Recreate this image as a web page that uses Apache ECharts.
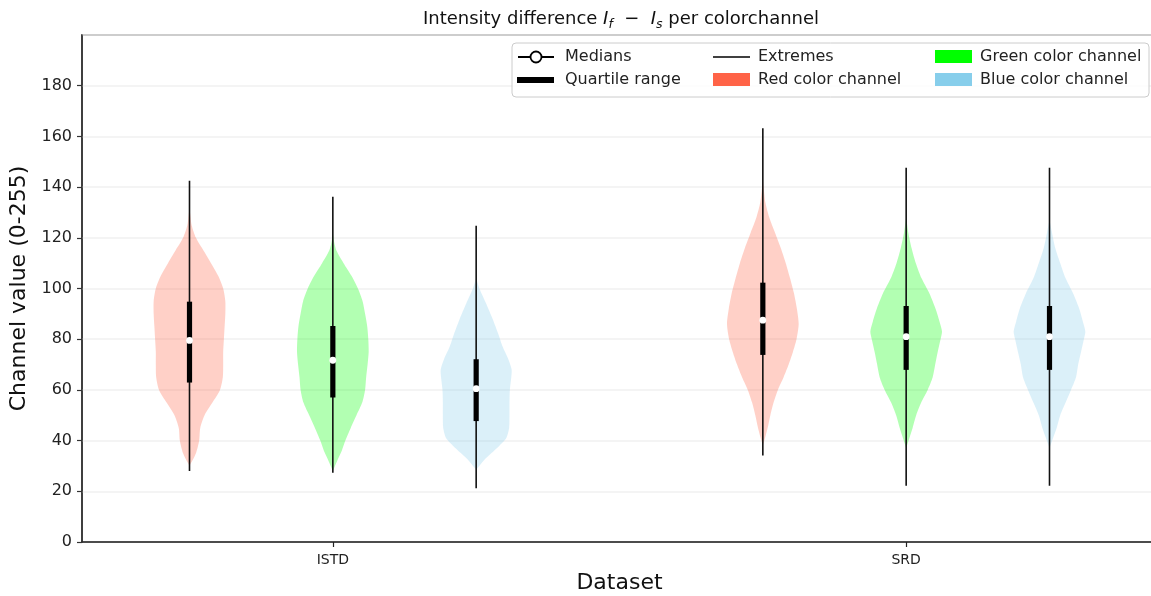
<!DOCTYPE html>
<html>
<head>
<meta charset="utf-8">
<title>Intensity difference per colorchannel</title>
<script src="https://cdn.jsdelivr.net/npm/echarts@6/dist/echarts.min.js"></script>
<style>
  html, body { margin: 0; padding: 0; background: #ffffff; }
  #chart { width: 1151px; height: 596px; }
</style>
</head>
<body>
<div id="chart"></div>
<script>
// Datasets on the x axis and where their labels sit
const datasets = ['ISTD', 'SRD'];
const datasetTicks = [1, 5];

// Colour channels (one violin per channel and dataset)
const channelNames = ['Red color channel', 'Green color channel', 'Blue color channel'];
const channelColors = ['#FF6347', '#00FF00', '#87CEEB'];

// Violin positions: ISTD R,G,B then SRD R,G,B
const violinPositions = [0, 1, 2, 4, 5, 6];
const violinChannel = [0, 1, 2, 0, 1, 2];

// Summary statistics per violin
const extremesMin = [28.0, 27.3, 21.2, 34.1, 22.2, 22.2];
const extremesMax = [142.5, 136.2, 124.8, 163.2, 147.6, 147.6];
const quartile1 = [62.9, 57.0, 47.7, 73.8, 67.9, 67.9];
const quartile3 = [94.8, 85.2, 72.1, 102.3, 93.1, 93.1];
const medians = [79.5, 71.7, 60.5, 87.5, 81.0, 81.0];

// Density outlines (channel value -> relative width, 1 = widest)
const istdRedLevels = [30, 35, 40, 45, 50, 55, 60, 65, 70, 75, 80, 85, 90, 95, 100, 105, 110, 115, 120, 125, 128, 132];
const istdRedDensity = [0, 0.18, 0.27, 0.3, 0.42, 0.64, 0.85, 0.93, 0.94, 0.94, 0.96, 0.98, 1.0, 1.0, 0.94, 0.8, 0.6, 0.39, 0.18, 0.06, 0.03, 0];

const istdGreenLevels = [28, 32, 36, 40, 45, 50, 55, 60, 65, 70, 75, 80, 85, 90, 95, 100, 105, 110, 115, 118, 122];
const istdGreenDensity = [0, 0.12, 0.25, 0.35, 0.5, 0.66, 0.82, 0.9, 0.93, 0.97, 1.0, 0.99, 0.96, 0.9, 0.83, 0.7, 0.52, 0.3, 0.1, 0.04, 0];

const istdBlueLevels = [28.5, 32, 35, 38, 41, 45, 50, 55, 60, 65, 68, 72, 77, 82, 88, 94, 100, 104];
const istdBlueDensity = [0, 0.2, 0.42, 0.65, 0.84, 0.92, 0.93, 0.93, 0.94, 0.98, 0.99, 0.9, 0.74, 0.62, 0.46, 0.28, 0.09, 0];

const srdRedLevels = [38, 42, 46, 50, 55, 60, 65, 70, 75, 80, 86, 92, 98, 104, 110, 116, 122, 128, 134, 140, 143];
const srdRedDensity = [0, 0.08, 0.15, 0.21, 0.3, 0.42, 0.58, 0.72, 0.84, 0.94, 1.0, 0.95, 0.87, 0.76, 0.64, 0.5, 0.34, 0.18, 0.07, 0.02, 0];

const srdGreenLevels = [37, 41, 45, 50, 55, 60, 65, 70, 75, 80, 83, 87, 92, 98, 104, 110, 116, 122, 128];
const srdGreenDensity = [0, 0.09, 0.18, 0.28, 0.42, 0.6, 0.74, 0.81, 0.88, 0.96, 1.0, 0.93, 0.82, 0.65, 0.43, 0.27, 0.15, 0.06, 0];

const srdBlueLevels = [37, 41, 45, 50, 55, 60, 65, 70, 75, 80, 83, 87, 92, 98, 104, 110, 116, 122, 127];
const srdBlueDensity = [0, 0.1, 0.2, 0.3, 0.45, 0.6, 0.74, 0.8, 0.88, 0.96, 1.0, 0.93, 0.83, 0.66, 0.45, 0.3, 0.16, 0.07, 0];

// Y axis ticks
const yTickMin = 0;
const yTickMax = 200;
const yTickStep = 20;

const FONT = 'DejaVu Sans';
const HALF_WIDTH = 0.25; // half of the violin width in x-axis units

const violinLevels = [istdRedLevels, istdGreenLevels, istdBlueLevels, srdRedLevels, srdGreenLevels, srdBlueLevels];
const violinDensity = [istdRedDensity, istdGreenDensity, istdBlueDensity, srdRedDensity, srdGreenDensity, srdBlueDensity];

function fadeColor(hex, alpha) {
  const n = parseInt(hex.slice(1), 16);
  return 'rgba(' + ((n >> 16) & 255) + ',' + ((n >> 8) & 255) + ',' + (n & 255) + ',' + alpha + ')';
}

// One custom series per violin body
const violinSeries = violinPositions.map(function (pos, k) {
  const levels = violinLevels[k];
  const dens = violinDensity[k];
  return {
    type: 'custom',
    name: channelNames[violinChannel[k]],
    silent: true,
    clip: false,
    z: 2,
    data: [[pos]],
    renderItem: function (params, api) {
      const x = api.value(0);
      const pts = [];
      for (let i = 0; i < levels.length; i++) {
        pts.push(api.coord([x - dens[i] * HALF_WIDTH, levels[i]]));
      }
      for (let i = levels.length - 1; i >= 0; i--) {
        pts.push(api.coord([x + dens[i] * HALF_WIDTH, levels[i]]));
      }
      return {
        type: 'polygon',
        shape: { points: pts, smooth: 0.25 },
        style: { fill: fadeColor(channelColors[violinChannel[k]], 0.3), stroke: null }
      };
    }
  };
});

// Extremes, quartile range and medians
const statsData = violinPositions.map(function (pos, k) {
  return [pos, extremesMin[k], extremesMax[k], quartile1[k], quartile3[k], medians[k]];
});

const statsSeries = {
  type: 'custom',
  silent: true,
  clip: false,
  z: 5,
  data: statsData,
  renderItem: function (params, api) {
    const x = api.value(0);
    const lo = api.coord([x, api.value(1)]);
    const hi = api.coord([x, api.value(2)]);
    const q1 = api.coord([x, api.value(3)]);
    const q3 = api.coord([x, api.value(4)]);
    const md = api.coord([x, api.value(5)]);
    return {
      type: 'group',
      children: [
        { type: 'line', shape: { x1: lo[0], y1: lo[1], x2: hi[0], y2: hi[1] },
          style: { stroke: '#111111', lineWidth: 1.6 } },
        { type: 'rect', shape: { x: q3[0] - 2.6, y: q3[1], width: 5.2, height: q1[1] - q3[1] },
          style: { fill: '#000000' } },
        { type: 'circle', shape: { cx: md[0], cy: md[1], r: 3.4 },
          style: { fill: '#ffffff' } }
      ]
    };
  }
};

// Legend drawn as graphic elements
const LX = 512, LY = 43;
const legendFont = '16px "' + FONT + '"';
const legendGraphics = [
  { type: 'rect', shape: { x: LX, y: LY, width: 637, height: 54, r: 4 },
    style: { fill: 'rgba(255,255,255,0.8)', stroke: '#cccccc', lineWidth: 1 }, z: 10 },
  { type: 'line', shape: { x1: 518, y1: 57, x2: 554, y2: 57 }, style: { stroke: '#000', lineWidth: 2 }, z: 11 },
  { type: 'circle', shape: { cx: 536, cy: 57, r: 5.5 }, style: { fill: '#fff', stroke: '#000', lineWidth: 1.8 }, z: 12 },
  { type: 'text', x: 565, y: 57, style: { text: 'Medians', font: legendFont, fill: '#222', verticalAlign: 'middle' }, z: 11 },
  { type: 'rect', shape: { x: 517, y: 77, width: 37, height: 6 }, style: { fill: '#000' }, z: 11 },
  { type: 'text', x: 565, y: 80, style: { text: 'Quartile range', font: legendFont, fill: '#222', verticalAlign: 'middle' }, z: 11 },
  { type: 'line', shape: { x1: 713, y1: 57, x2: 750, y2: 57 }, style: { stroke: '#000', lineWidth: 1.5 }, z: 11 },
  { type: 'text', x: 758, y: 57, style: { text: 'Extremes', font: legendFont, fill: '#222', verticalAlign: 'middle' }, z: 11 },
  { type: 'rect', shape: { x: 713, y: 73, width: 37, height: 13 }, style: { fill: channelColors[0] }, z: 11 },
  { type: 'text', x: 758, y: 80, style: { text: channelNames[0], font: legendFont, fill: '#222', verticalAlign: 'middle' }, z: 11 },
  { type: 'rect', shape: { x: 935, y: 50, width: 37, height: 13 }, style: { fill: channelColors[1] }, z: 11 },
  { type: 'text', x: 980, y: 57, style: { text: channelNames[1], font: legendFont, fill: '#222', verticalAlign: 'middle' }, z: 11 },
  { type: 'rect', shape: { x: 935, y: 73, width: 37, height: 13 }, style: { fill: channelColors[2] }, z: 11 },
  { type: 'text', x: 980, y: 80, style: { text: channelNames[2], font: legendFont, fill: '#222', verticalAlign: 'middle' }, z: 11 }
];

const chart = echarts.init(document.getElementById('chart'), null, { renderer: 'canvas' });

chart.setOption({
  backgroundColor: '#ffffff',
  animation: false,
  title: {
    text: '{n|Intensity difference }{i|I}{s|f}{n|  \u2212  }{i|I}{s|s}{n| per colorchannel}',
    left: 616,
    top: 2,
    textAlign: 'center',
    textStyle: {
      fontWeight: 'normal',
      rich: {
        n: { fontFamily: FONT, fontSize: 18, fontWeight: 'normal', color: '#111', lineHeight: 24, verticalAlign: 'middle' },
        i: { fontFamily: FONT, fontSize: 18, fontWeight: 'normal', fontStyle: 'italic', color: '#111', lineHeight: 24, verticalAlign: 'middle' },
        s: { fontFamily: FONT, fontSize: 12.5, fontWeight: 'normal', fontStyle: 'italic', color: '#111', lineHeight: 12, verticalAlign: 'bottom' }
      }
    }
  },
  grid: {
    left: 82, right: -6, top: 35, bottom: 54,
    outerBoundsMode: 'none',
    containLabel: false,
    show: true, borderColor: '#333333', borderWidth: 1.5, backgroundColor: 'transparent'
  },
  xAxis: {
    type: 'value',
    min: -0.75,
    max: 6.75,
    name: 'Dataset',
    nameLocation: 'middle',
    nameGap: 28,
    nameTextStyle: { fontFamily: FONT, fontSize: 22, color: '#111' },
    axisLine: { show: true, onZero: false, lineStyle: { color: '#222', width: 1.5 } },
    axisTick: { show: true, customValues: datasetTicks, length: 5, lineStyle: { color: '#222', width: 1.2 } },
    axisLabel: {
      customValues: datasetTicks,
      formatter: function (v) { const i = datasetTicks.indexOf(v); return i >= 0 ? datasets[i] : ''; },
      fontFamily: FONT, fontSize: 14, color: '#222', margin: 11
    },
    splitLine: { show: false }
  },
  yAxis: {
    type: 'value',
    min: yTickMin,
    max: yTickMax,
    interval: yTickStep,
    name: 'Channel value (0-255)',
    nameLocation: 'middle',
    nameGap: 46,
    nameRotate: 90,
    nameTextStyle: { fontFamily: FONT, fontSize: 22, color: '#111' },
    axisLine: { show: true, onZero: false, lineStyle: { color: '#333333', width: 1.5 } },
    axisTick: { show: true, length: 5, lineStyle: { color: '#333', width: 1.2 } },
    axisLabel: { fontFamily: FONT, fontSize: 16, color: '#222', margin: 10, showMaxLabel: false },
    splitLine: { show: true, lineStyle: { color: '#f1f1f1', width: 1.5 } }
  },
  graphic: legendGraphics,
  series: violinSeries.concat([statsSeries])
});
</script>
</body>
</html>
